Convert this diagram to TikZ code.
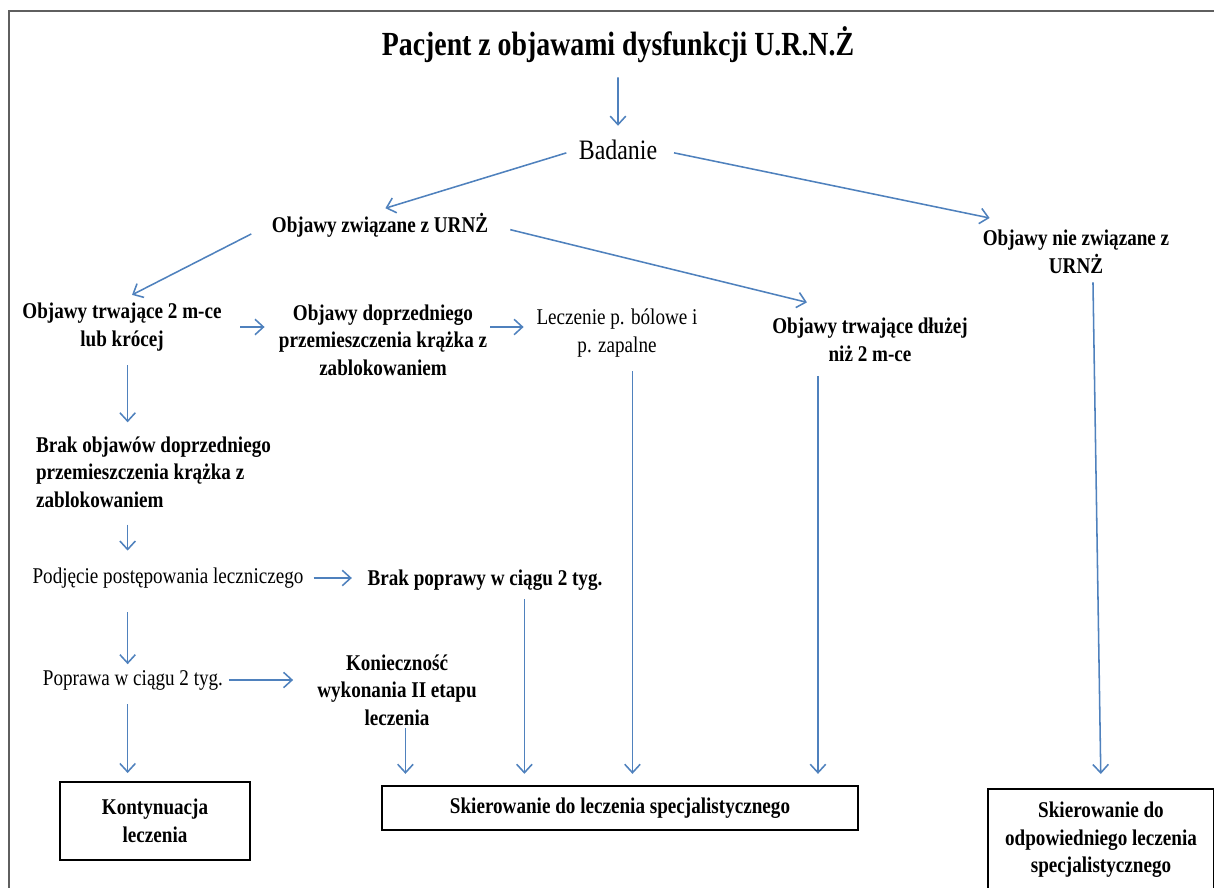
\documentclass[tikz,border=0pt]{standalone}
\usepackage{fontspec}
\setmainfont{Liberation Serif}[FakeStretch=0.85]
\usetikzlibrary{arrows.meta}
\definecolor{arrowblue}{RGB}{79,129,189}
\definecolor{framegray}{RGB}{95,95,95}
\tikzset{
  txt/.style = {align=center, inner sep=2pt,
    font=\fontsize{16}{19.5}\selectfont},
  btxt/.style = {txt, font=\fontsize{16}{19.5}\selectfont\bfseries},
  titletxt/.style = {txt, font=\fontsize{24}{28}\selectfont\bfseries},
  bigtxt/.style = {txt, font=\fontsize{20}{24}\selectfont},
  box/.style = {btxt, draw=black, line width=1.3pt},
  arr/.style = {->, draw=arrowblue, line width=1.1pt}
}

\begin{document}
\begin{tikzpicture}[x=0.025cm, y=-0.025cm,
    >={Straight Barb[length=6pt,width=11pt]}]
\useasboundingbox (0,0) rectangle (1214,887);
% frame
\draw[framegray, line width=1.6pt] (9,900) -- (9,11) -- (1230,11);

% top of the chart
\node[titletxt, xscale=0.97] (pacjent) at (618,45) {Pacjent z objawami dysfunkcji U.R.N.Ż};
\node[bigtxt] (badanie) at (618,150) {Badanie};
\node[btxt] (zwiazane) at (380,225) {Objawy związane z URNŻ};
\node[btxt] (niezwiazane) at (1076,252) {Objawy nie związane z\\URNŻ};

% second row
\node[btxt] (krotko) at (122,327) {Objawy trwające 2 m-ce\\lub krócej};
\node[btxt] (doprzedni) at (383,340) {Objawy doprzedniego\\przemieszczenia krążka z\\zablokowaniem};
\node[txt] (bolowe) at (617,333) {Leczenie p. bólowe i\\p. zapalne};
\node[btxt] (dluzej) at (870,340) {Objawy trwające dłużej\\niż 2 m-ce};

% left column
\node[btxt, align=left, anchor=west] (brakobj) at (33,472) {Brak objawów doprzedniego\\przemieszczenia krążka z\\zablokowaniem};
\node[txt] (podjecie) at (168,578) {Podjęcie postępowania leczniczego};
\node[btxt] (brakpop) at (485,580) {Brak poprawy w ciągu 2 tyg.};
\node[txt] (poprawa) at (133,680) {Poprawa w ciągu 2 tyg.};
\node[btxt] (koniecz) at (397,690) {Konieczność\\wykonania II etapu\\leczenia};

% end boxes
\node[box, minimum width=4.75cm, minimum height=1.93cm] (kontyn) at (155,821) {Kontynuacja\\leczenia};
\node[box, minimum width=11.9cm, minimum height=1.1cm] (skier) at (620,808) {Skierowanie do leczenia specjalistycznego};
\node[box, minimum width=5.65cm, minimum height=2.55cm] (odpow) at (1101,840) {Skierowanie do\\odpowiedniego leczenia\\specjalistycznego};

% arrows
\draw[arr, shorten <=8pt, shorten >=8pt] (pacjent) -- (badanie);
\draw[arr, shorten <=7pt, shorten >=4pt] (badanie.west) -- (zwiazane.north);
\draw[arr, shorten <=10pt, shorten >=3pt] (badanie.east) -- ([xshift=10pt,yshift=6pt]niezwiazane.north west);
\draw[arr, shorten <=14pt, shorten >=8pt] (zwiazane.west) -- (krotko.north);
\draw[arr, shorten <=14pt, shorten >=5pt] (zwiazane.east) -- ([xshift=-40pt,yshift=8pt]dluzej.north);
\draw[arr, shorten <=11pt, shorten >=8pt] (krotko.east) -- (krotko.east -| doprzedni.west);
\draw[arr, shorten >=7pt] (krotko.east -| doprzedni.east) -- (krotko.east -| bolowe.west);
\draw[arr, shorten <=8pt, shorten >=8pt] ([xshift=4pt]krotko.south) -- ([xshift=4pt]krotko.south |- brakobj.north);
\draw[arr, shorten <=10pt, shorten >=10pt] ([xshift=4pt]krotko.south |- brakobj.south) -- ([xshift=4pt]krotko.south |- podjecie.north);
\draw[arr, shorten <=5pt, shorten >=9pt] (podjecie.east) -- (podjecie.east -| brakpop.west);
\draw[arr, shorten <=15pt, shorten >=2pt] ([xshift=4pt]krotko.south |- podjecie.south) -- ([xshift=4pt]krotko.south |- poprawa.north);
\draw[arr, shorten <=2pt, shorten >=15pt] (poprawa.east) -- (poprawa.east -| koniecz.west);
\draw[arr, shorten <=8pt, shorten >=6pt] ([xshift=4pt]krotko.south |- poprawa.south) -- ([xshift=4pt]krotko.south |- kontyn.north);
\draw[arr, shorten >=8pt] ([xshift=6pt]koniecz.south) -- ([xshift=6pt]koniecz.south |- skier.north);
\draw[arr, shorten <=4pt, shorten >=8pt] ([xshift=28pt]brakpop.south) -- ([xshift=28pt]brakpop.south |- skier.north);
\draw[arr, shorten <=8pt, shorten >=8pt] ([xshift=11pt]bolowe.south) -- ([xshift=11pt]bolowe.south |- skier.north);
\draw[arr, shorten <=8pt, shorten >=8pt] ([xshift=-37pt]dluzej.south) -- ([xshift=-37pt]dluzej.south |- skier.north);
\draw[arr, shorten <=4pt, shorten >=10pt] ([xshift=12pt]niezwiazane.south) -- (odpow.north);
\end{tikzpicture}
\end{document}
